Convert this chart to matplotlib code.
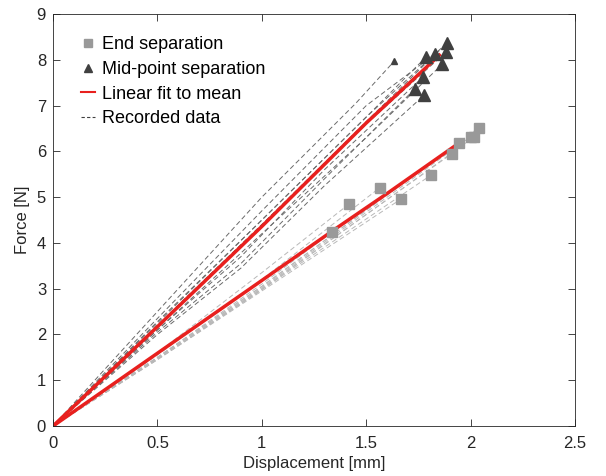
import matplotlib
matplotlib.use("Agg")
import matplotlib.pyplot as plt
from matplotlib.lines import Line2D

plt.rcParams['font.family'] = ['Liberation Sans', 'DejaVu Sans']

# end separation markers (displacement mm, force N)
end_x = [1.338, 1.415, 1.566, 1.667, 1.81, 1.91, 1.944, 2.0, 2.018, 2.04]
end_y = [4.24, 4.84, 5.21, 4.96, 5.48, 5.95, 6.19, 6.32, 6.32, 6.52]

# mid-point separation markers
mid_x = [1.887, 1.88, 1.83, 1.786, 1.863, 1.773, 1.734, 1.778]
mid_y = [8.37, 8.16, 8.12, 8.06, 7.9, 7.63, 7.37, 7.23]
# the one short test, drawn smaller in the original
mid_small_x = [1.634]
mid_small_y = [7.97]

# linear fits to mean
fit_end_x = [0, 0.5, 1.0, 1.35, 1.6, 1.95]
fit_end_y = [0, 1.59, 3.18, 4.3, 5.08, 6.2]
fit_mid_x = [0, 0.5, 1.0, 1.5, 1.85]
fit_mid_y = [0, 2.17, 4.36, 6.62, 8.1]

# recorded curves, mid-point separation
mid_curves = [
    ([0, 0.5, 1.0, 1.45, 1.634], [0, 2.5, 5.0, 7.05, 7.97]),
    ([0, 0.5, 1.0, 1.5, 1.887], [0, 2.25, 4.5, 6.75, 8.37]),
    ([0, 0.5, 1.0, 1.5, 1.88], [0, 2.2, 4.4, 6.6, 8.16]),
    ([0, 0.5, 1.0, 1.5, 1.83], [0, 2.2, 4.4, 6.65, 8.12]),
    ([0, 0.5, 1.0, 1.5, 1.786], [0, 2.28, 4.5, 6.75, 8.06]),
    ([0, 0.5, 1.0, 1.5, 1.863], [0, 2.1, 4.2, 6.3, 7.9]),
    ([0, 0.5, 0.9, 1.3, 1.773], [0, 2.1, 3.7, 5.6, 7.63]),
    ([0, 0.5, 0.9, 1.3, 1.734], [0, 2.05, 3.55, 5.4, 7.37]),
    ([0, 0.5, 0.9, 1.3, 1.778], [0, 2.0, 3.45, 5.25, 7.23]),
    ([0, 0.5, 1.0, 1.5, 1.85], [0, 2.35, 4.7, 7.0, 8.2]),
]

# recorded curves, end separation
end_curves = [
    ([0, 0.5, 1.0, 1.338], [0, 1.5, 3.1, 4.24]),
    ([0, 0.5, 1.0, 1.415], [0, 1.6, 3.35, 4.84]),
    ([0, 0.5, 1.0, 1.566], [0, 1.55, 3.2, 5.21]),
    ([0, 0.5, 1.0, 1.667], [0, 1.45, 2.95, 4.96]),
    ([0, 0.5, 1.0, 1.81], [0, 1.45, 2.98, 5.48]),
    ([0, 0.5, 1.0, 1.91], [0, 1.47, 3.0, 5.95]),
    ([0, 0.5, 1.0, 1.944], [0, 1.5, 3.05, 6.19]),
    ([0, 0.5, 1.0, 2.0], [0, 1.48, 3.02, 6.32]),
    ([0, 0.5, 1.0, 2.018], [0, 1.46, 2.98, 6.32]),
    ([0, 0.5, 1.0, 2.04], [0, 1.5, 3.05, 6.52]),
]


def main():
    fig = plt.figure(figsize=(6.06, 4.76), dpi=100)
    ax = fig.add_axes([0.0875, 0.105, 0.8615, 0.8656])

    for xs, ys in end_curves:
        ax.plot(xs, ys, '--', color='#b8b8b8', lw=0.7, dashes=(5, 3))
    for xs, ys in mid_curves:
        ax.plot(xs, ys, '--', color='#6a6a6a', lw=0.7, dashes=(5, 3))

    ax.plot(fit_end_x, fit_end_y, color='#e8201e', lw=2.5)
    ax.plot(fit_mid_x, fit_mid_y, color='#e8201e', lw=2.5)

    ax.plot(end_x, end_y, 's', color='#999999', ms=7, mec='#999999', ls='none')
    ax.plot(mid_x, mid_y, '^', color='#404040', ms=8, mec='#404040', ls='none')
    ax.plot(mid_small_x, mid_small_y, '^', color='#404040', ms=4.5, ls='none')

    ax.set_xlim(0, 2.5)
    ax.set_ylim(0, 9)
    ax.set_xticks([0, 0.5, 1, 1.5, 2, 2.5])
    ax.set_xticklabels(['0', '0.5', '1', '1.5', '2', '2.5'])
    ax.set_yticks(range(10))
    ax.tick_params(direction='in', top=True, right=True, length=5,
                   labelsize=12, colors='#262626', width=0.6)
    ax.tick_params(axis='x', pad=7)
    ax.tick_params(axis='y', pad=5)
    for sp in ax.spines.values():
        sp.set_color('#262626')
        sp.set_linewidth(0.6)
    ax.set_xlabel('Displacement [mm]', fontsize=12, color='#262626', labelpad=4)
    ax.set_ylabel('Force [N]', fontsize=12, color='#262626', labelpad=5)

    handles = [
        Line2D([], [], marker='s', color='#999999', ls='none', ms=6),
        Line2D([], [], marker='^', color='#404040', ls='none', ms=6),
        Line2D([], [], color='#e8201e', lw=1.5),
        Line2D([], [], color='#404040', lw=0.8, ls='--', dashes=(3, 2)),
    ]
    labels = ['End separation', 'Mid-point separation', 'Linear fit to mean',
              'Recorded data']
    ax.legend(handles, labels, loc='upper left', frameon=False, fontsize=13,
              handlelength=0.8, handletextpad=0.4, labelspacing=0.42,
              bbox_to_anchor=(0.022, 0.985))

    fig.savefig('out.png', dpi=100)


if __name__ == "__main__":
    main()
